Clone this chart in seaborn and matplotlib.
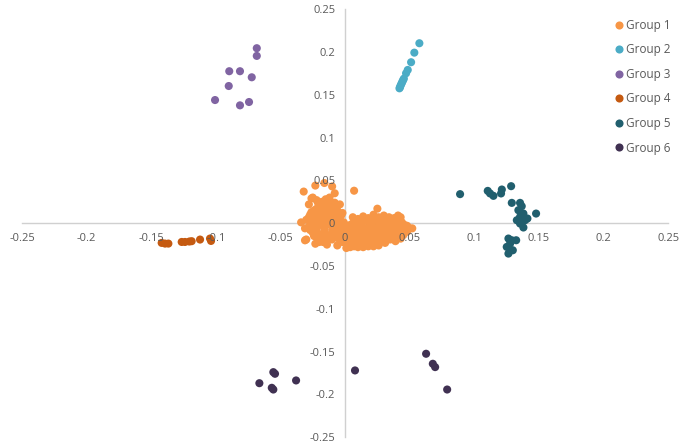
import pandas as pd
import numpy as np
import matplotlib
matplotlib.use("Agg")
import matplotlib.pyplot as plt
import seaborn as sns

# group 1 - the big cloud around the origin
g1_x = [-0.025, -0.022, -0.018, -0.015, -0.012, -0.020, -0.016, -0.010, -0.006, -0.024,
        -0.019, -0.013, -0.008, -0.003, -0.027, -0.022, -0.016, -0.010, -0.004, -0.030,
        -0.025, -0.019, -0.013, -0.007, -0.001, -0.028, -0.022, -0.016, -0.010, -0.004,
        -0.031, -0.025, -0.019, -0.013, -0.007, -0.021, -0.016, -0.010, -0.030, -0.023,
        -0.005, -0.012, -0.008, -0.028, -0.002,
        -0.032, -0.023, -0.016, -0.010, -0.026, -0.004, 0.007, -0.008,
        0.000, 0.004, 0.008, 0.012, 0.016, 0.020, 0.024, 0.028, 0.032, 0.036,
        0.040, 0.044, 0.048, 0.002, 0.006, 0.010, 0.014, 0.018, 0.022, 0.026,
        0.030, 0.034, 0.038, 0.042, 0.046, 0.050, 0.001, 0.005, 0.009, 0.013,
        0.017, 0.021, 0.025, 0.029, 0.033, 0.037, 0.041, 0.045, 0.003, 0.007,
        0.011, 0.015, 0.019, 0.023, 0.027, 0.031, 0.035, 0.039, 0.043, -0.002,
        0.006, 0.014, 0.022, 0.030, 0.038, 0.001, 0.010, 0.018, 0.026, -0.006,
        0.025, 0.041, 0.043, 0.052, -0.031, -0.017, -0.034,
        # fill points of the dense part
        -0.021, -0.017, -0.013, -0.009, -0.022, -0.018, -0.015, -0.011, -0.007, -0.026,
        -0.021, -0.016, -0.011, -0.006, -0.028, -0.024, -0.019, -0.013, -0.008, -0.003,
        -0.026, -0.021, -0.016, -0.010, -0.005, -0.027, -0.022, -0.016, -0.010, -0.024,
        -0.018, -0.013, -0.008, -0.003, -0.020, -0.014,
        0.002, 0.006, 0.010, 0.014, 0.018, 0.022, 0.026, 0.030, 0.034, 0.038,
        0.042, 0.046, 0.004, 0.008, 0.012, 0.016, 0.020, 0.024, 0.028, 0.032,
        0.036, 0.040, 0.044, 0.048, 0.003, 0.008, 0.012, 0.016, 0.020, 0.024,
        0.028, 0.032, 0.036, 0.040, 0.001, 0.005, 0.009, 0.013, 0.017, 0.021,
        0.025, 0.029, 0.033, 0.037, 0.041, 0.045, -0.001, -0.002, 0.004, 0.014,
        0.022, 0.010, 0.018, 0.026, 0.034]
g1_y = [0.030, 0.027, 0.025, 0.028, 0.022, 0.020, 0.018, 0.017, 0.015, 0.015,
        0.012, 0.012, 0.010, 0.009, 0.010, 0.007, 0.006, 0.005, 0.004, 0.004,
        0.002, 0.000, -0.001, -0.002, 0.001, -0.004, -0.006, -0.007, -0.008, -0.006,
        -0.006, -0.011, -0.013, -0.014, -0.013, -0.018, -0.021, -0.019, -0.019, -0.024,
        -0.018, 0.030, 0.024, 0.022, 0.012,
        0.037, 0.044, 0.047, 0.043, 0.029, 0.022, 0.038, 0.035,
        -0.005, -0.002, 0.002, -0.001, 0.003, 0.000, 0.004, 0.001, 0.005, 0.002,
        -0.001, 0.001, -0.003, -0.010, -0.008, -0.011, -0.007, -0.010, -0.006, -0.009,
        -0.005, -0.008, -0.004, -0.007, -0.009, -0.006, -0.016, -0.019, -0.015, -0.018,
        -0.014, -0.017, -0.013, -0.016, -0.012, -0.015, -0.011, -0.014, -0.024, -0.027,
        -0.022, -0.025, -0.021, -0.024, -0.020, -0.023, -0.019, -0.021, -0.018, -0.022,
        0.007, 0.008, 0.010, 0.009, 0.006, -0.029, -0.028, -0.027, -0.026, -0.026,
        0.017, 0.009, 0.007, -0.006, -0.020, -0.022, 0.001,
        0.024, 0.021, 0.019, 0.020, 0.017, 0.015, 0.014, 0.014, 0.012, 0.013,
        0.010, 0.009, 0.008, 0.007, 0.007, 0.005, 0.003, 0.002, 0.001, -0.001,
        -0.001, -0.003, -0.003, -0.004, -0.010, -0.008, -0.010, -0.011, -0.012, -0.015,
        -0.017, -0.017, -0.016, -0.014, -0.022, -0.025,
        -0.003, 0.000, 0.001, 0.002, 0.002, 0.003, 0.002, 0.003, 0.003, 0.000,
        0.000, -0.002, -0.013, -0.012, -0.014, -0.012, -0.013, -0.011, -0.012, -0.010,
        -0.011, -0.009, -0.011, -0.010, -0.020, -0.021, -0.019, -0.022, -0.019, -0.021,
        -0.018, -0.020, -0.017, -0.017, -0.008, -0.005, -0.006, -0.004, -0.006, -0.003,
        -0.005, -0.002, -0.003, -0.007, -0.004, -0.005, -0.012, -0.017, -0.028, -0.028,
        -0.027, 0.005, 0.006, 0.007, 0.007]

g2_x = [0.0575, 0.0536, 0.0511, 0.0485, 0.0472, 0.0455, 0.0448, 0.0442, 0.0436, 0.0430, 0.0425, 0.0421]
g2_y = [0.2104, 0.1994, 0.1882, 0.1792, 0.1753, 0.1690, 0.1670, 0.1650, 0.1630, 0.1610, 0.1590, 0.1577]

g3_x = [-0.0683, -0.0683, -0.0896, -0.0813, -0.0722, -0.0900, -0.1006, -0.0813, -0.0743]
g3_y = [0.2046, 0.1956, 0.1777, 0.1777, 0.1706, 0.1604, 0.1440, 0.1378, 0.1417]

g4_x = [-0.1393, -0.1367, -0.1419, -0.1264, -0.1238, -0.1205, -0.1187, -0.1122, -0.1045, -0.1037]
g4_y = [-0.0238, -0.0238, -0.0230, -0.0219, -0.0219, -0.0214, -0.0210, -0.0191, -0.0179, -0.0207]

g5_x = [0.0890, 0.1104, 0.1122, 0.1148, 0.1213, 0.1207, 0.1285, 0.1290, 0.1354, 0.1367,
        0.1341, 0.1380, 0.1478, 0.1354, 0.1393, 0.1354, 0.1380, 0.1411, 0.1329, 0.1264,
        0.1290, 0.1324, 0.1277, 0.1298, 0.1264, 0.1251]
g5_y = [0.0340, 0.0378, 0.0348, 0.0320, 0.0394, 0.0348, 0.0433, 0.0238, 0.0238, 0.0199,
        0.0152, 0.0113, 0.0113, 0.0074, 0.0035, -0.0004, -0.0050, 0.0055, 0.0035, -0.0179,
        -0.0199, -0.0199, -0.0238, -0.0316, -0.0355, -0.0277]

g6_x = [-0.0663, -0.0555, -0.0542, -0.0567, -0.0555, -0.0379, 0.0077, 0.0627, 0.0679, 0.0697, 0.0790]
g6_y = [-0.1870, -0.1741, -0.1760, -0.1924, -0.1944, -0.1838, -0.1721, -0.1526, -0.1643, -0.1682, -0.1944]

groups = ["Group 1", "Group 2", "Group 3", "Group 4", "Group 5", "Group 6"]
colors = ["#F79646", "#4BACC6", "#8064A2", "#C55A11", "#215F6E", "#403152"]

xs = [g1_x, g2_x, g3_x, g4_x, g5_x, g6_x]
ys = [g1_y, g2_y, g3_y, g4_y, g5_y, g6_y]
frames = []
for name, gx, gy in zip(groups, xs, ys):
    frames.append(pd.DataFrame({"x": gx, "y": gy, "group": name}))
df = pd.concat(frames, ignore_index=True)

sns.set_style("white")
plt.rcParams['font.family'] = ['Open Sans', 'DejaVu Sans']

fig = plt.figure(figsize=(6.86, 4.46), dpi=100)
ax = fig.add_axes([0.032, 0.020, 0.942, 0.959])

sns.scatterplot(data=df, x="x", y="y", hue="group", palette=dict(zip(groups, colors)),
                s=34, linewidth=0, ax=ax, legend=True, zorder=3)

ax.set_xlim(-0.25, 0.25)
ax.set_ylim(-0.25, 0.25)

ticks = [-0.25, -0.2, -0.15, -0.1, -0.05, 0, 0.05, 0.1, 0.15, 0.2, 0.25]
labels = ["-0.25", "-0.2", "-0.15", "-0.1", "-0.05", "0", "0.05", "0.1", "0.15", "0.2", "0.25"]
ax.set_xticks(ticks)
ax.set_xticklabels(labels)
ax.set_yticks(ticks)
ax.set_yticklabels(labels)

for side in ["top", "right"]:
    ax.spines[side].set_visible(False)
ax.spines["left"].set_position(("data", 0))
ax.spines["bottom"].set_position(("data", 0))
for side in ["left", "bottom"]:
    ax.spines[side].set_color("#D0D0D0")
    ax.spines[side].set_linewidth(1)
    ax.spines[side].set_zorder(1)

# tick labels sit on top of the points like in the excel chart
ax.xaxis.set_zorder(4)
ax.yaxis.set_zorder(4)
ax.tick_params(axis="both", direction="inout", length=6, width=1, color="#D0D0D0",
               labelsize=8, labelcolor="#595959", pad=4)
ax.set_xlabel("")
ax.set_ylabel("")

handles, lbls = ax.get_legend_handles_labels()
ax.legend(handles, lbls, loc="upper left", bbox_to_anchor=(0.878, 0.982),
          bbox_transform=fig.transFigure, frameon=False, fontsize=8.5,
          labelcolor="#595959", labelspacing=0.98, handletextpad=0.1,
          handlelength=1.0, markerscale=1.0)

fig.savefig("out.png", dpi=100)
